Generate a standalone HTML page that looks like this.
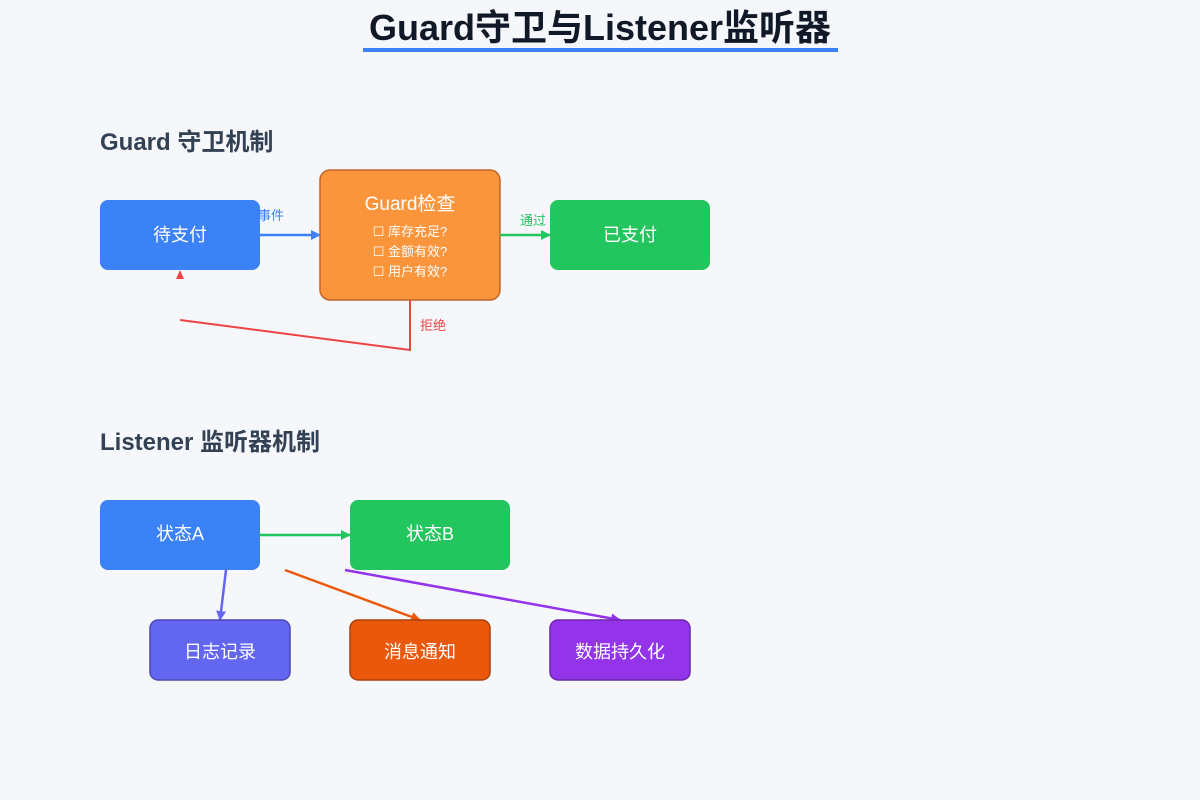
<!DOCTYPE html>
<html><head><meta charset="utf-8"><style>
html,body{margin:0;padding:0;background:#f5f7fb;}
svg{display:block;font-family:"Liberation Sans","Noto Sans CJK SC",sans-serif;}
</style></head><body>
<svg width="1200" height="800" viewBox="0 0 1200 800">
<defs>
<marker id="ab" markerWidth="10" markerHeight="10" refX="9" refY="5" orient="auto" markerUnits="userSpaceOnUse"><path d="M0,0 L10,5 L0,10 z" fill="#3b82f6"/></marker>
<marker id="ag" markerWidth="10" markerHeight="10" refX="9" refY="5" orient="auto" markerUnits="userSpaceOnUse"><path d="M0,0 L10,5 L0,10 z" fill="#22c55e"/></marker>
<marker id="ai" markerWidth="10" markerHeight="10" refX="9" refY="5" orient="auto" markerUnits="userSpaceOnUse"><path d="M0,0 L10,5 L0,10 z" fill="#6366f1"/></marker>
<marker id="ao" markerWidth="10" markerHeight="10" refX="9" refY="5" orient="auto" markerUnits="userSpaceOnUse"><path d="M0,0 L10,5 L0,10 z" fill="#ea580c"/></marker>
<marker id="ap" markerWidth="10" markerHeight="10" refX="9" refY="5" orient="auto" markerUnits="userSpaceOnUse"><path d="M0,0 L10,5 L0,10 z" fill="#9333ea"/></marker>
</defs>
<rect width="1200" height="800" fill="#f5f7fb"/>
<text x="600" y="40" text-anchor="middle" font-size="36" font-weight="bold" fill="#111827">Guard守卫与Listener监听器</text>
<rect x="363" y="48" width="475" height="4" fill="#3b82f6"/>

<text x="100" y="150" font-size="24" font-weight="bold" fill="#334155">Guard 守卫机制</text>
<rect x="100" y="200" width="160" height="70" rx="8" fill="#3b82f6"/>
<text x="180" y="241" text-anchor="middle" font-size="18" fill="#fff">待支付</text>
<line x1="260" y1="235" x2="320" y2="235" stroke="#3b82f6" stroke-width="2.5" marker-end="url(#ab)"/>
<text x="258" y="220" font-size="13" fill="#3b82f6">事件</text>
<rect x="320" y="170" width="180" height="130" rx="10" fill="#fb953c" stroke="#c2672a" stroke-width="1.5"/>
<text x="410" y="210" text-anchor="middle" font-size="19" fill="#fff">Guard检查</text>
<text x="410" y="236" text-anchor="middle" font-size="13" fill="#fff">☐ 库存充足?</text>
<text x="410" y="256" text-anchor="middle" font-size="13" fill="#fff">☐ 金额有效?</text>
<text x="410" y="276" text-anchor="middle" font-size="13" fill="#fff">☐ 用户有效?</text>
<line x1="500" y1="235" x2="550" y2="235" stroke="#22c55e" stroke-width="2.5" marker-end="url(#ag)"/>
<text x="520" y="225" font-size="13" fill="#22c55e">通过</text>
<rect x="550" y="200" width="160" height="70" rx="8" fill="#22c55e"/>
<text x="630" y="241" text-anchor="middle" font-size="18" fill="#fff">已支付</text>
<polyline points="410,300 410,350 180,320" fill="none" stroke="#ef4444" stroke-width="2"/>
<path d="M176,279 L184,279 L180,270 z" fill="#ef4444"/>
<text x="420" y="330" font-size="13" fill="#ef4444">拒绝</text>

<text x="100" y="450" font-size="24" font-weight="bold" fill="#334155">Listener 监听器机制</text>
<rect x="100" y="500" width="160" height="70" rx="8" fill="#3b82f6"/>
<text x="180" y="540" text-anchor="middle" font-size="18" fill="#fff">状态A</text>
<line x1="260" y1="535" x2="350" y2="535" stroke="#22c55e" stroke-width="2.5" marker-end="url(#ag)"/>
<rect x="350" y="500" width="160" height="70" rx="8" fill="#22c55e"/>
<text x="430" y="540" text-anchor="middle" font-size="18" fill="#fff">状态B</text>
<line x1="226" y1="570" x2="220" y2="620" stroke="#6366f1" stroke-width="2.5" marker-end="url(#ai)"/>
<line x1="285" y1="570" x2="420" y2="620" stroke="#ea580c" stroke-width="2.5" marker-end="url(#ao)"/>
<line x1="345" y1="570" x2="620" y2="620" stroke="#9333ea" stroke-width="2.5" marker-end="url(#ap)"/>
<rect x="150" y="620" width="140" height="60" rx="8" fill="#6366f1" stroke="#4f46b5" stroke-width="1.5"/>
<text x="220" y="658" text-anchor="middle" font-size="18" fill="#fff">日志记录</text>
<rect x="350" y="620" width="140" height="60" rx="8" fill="#ea580c" stroke="#a9410c" stroke-width="1.5"/>
<text x="420" y="658" text-anchor="middle" font-size="18" fill="#fff">消息通知</text>
<rect x="550" y="620" width="140" height="60" rx="8" fill="#9333ea" stroke="#6d28a8" stroke-width="1.5"/>
<text x="620" y="658" text-anchor="middle" font-size="18" fill="#fff">数据持久化</text>
</svg>
</body></html>
